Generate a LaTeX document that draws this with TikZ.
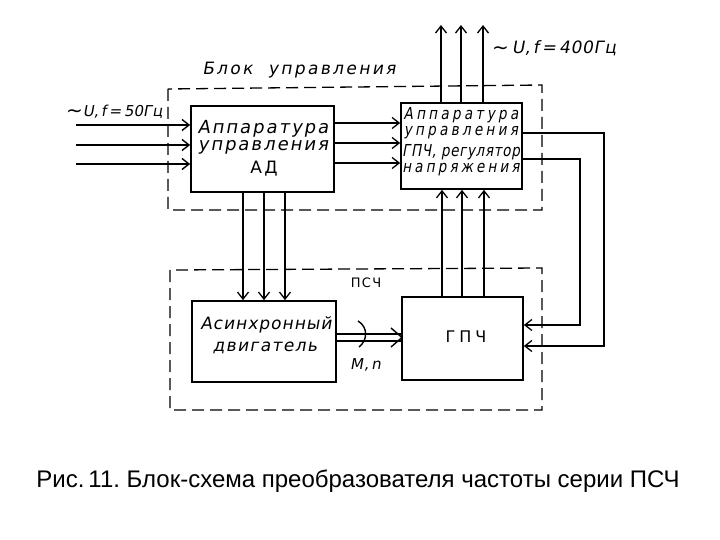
\documentclass[tikz,border=0pt]{standalone}
\usepackage{fontspec}
\setmainfont{Liberation Sans}
\newfontfamily\gost[FakeSlant=0.18]{DejaVu Sans}
\newfontfamily\gostn[FakeSlant=0.18,FakeStretch=0.82]{DejaVu Sans}
\newfontfamily\gostup{DejaVu Sans}
\newcommand{\ls}[1]{\addfontfeatures{LetterSpace=#1}}
\newcommand{\tld}{{\gostup\fontsize{20}{20}\selectfont\raisebox{-1pt}{∼}}}
\usetikzlibrary{arrows.meta}
\frenchspacing
\begin{document}
\begin{tikzpicture}[x=1pt,y=-1pt,
  blk/.style={draw,line width=1.7pt,inner sep=0pt},
  arr/.style={line width=1.3pt,-{Straight Barb[length=7pt,width=11pt,line width=1.3pt]}},
  thickarr/.style={line width=2.4pt,-{Straight Barb[length=7pt,width=11pt,line width=1.4pt]}},
  ln/.style={line width=1.4pt},
  dbox/.style={draw,line width=1.3pt,dash pattern=on 12pt off 6pt},
  tx/.style={inner sep=0pt}]
\useasboundingbox (0,0) rectangle (720,540);

% dashed boxes
\draw[dbox] (168,89) -- (168,210) -- (542,210) -- (542,85) -- cycle;
\draw[dbox] (170,270) -- (170,410) -- (542,410) -- (542,268) -- cycle;
\node[tx,font=\gost\fontsize{17}{19}\selectfont\ls{14}] (lblu) at (299,70) {Блок\ \ управления};
\node[tx,font=\gostup\fontsize{13}{15}\selectfont\ls{10}] (lblp) at (366,283) {ПСЧ};

% blocks
\node[blk,minimum width=143pt,minimum height=86pt] (ad) at (262.5,149) {};
\node[blk,minimum width=121pt,minimum height=86pt] (ur) at (461.5,146) {};
\node[blk,minimum width=144pt,minimum height=81pt] (mot) at (264,341.5) {};
\node[blk,minimum width=121pt,minimum height=83pt] (gp) at (462.5,338.5) {};

% block texts
\node[tx,font=\gost\fontsize{18}{20}\selectfont\ls{11}] (ad1) at (263,129) {Аппаратура};
\node[tx,font=\gost\fontsize{18}{20}\selectfont\ls{11}] (ad2) at (263,147) {управления};
\node[tx,font=\gostup\fontsize{17}{19}\selectfont\ls{15}] (ad3) at (264,169) {АД};
\node[tx,font=\gostn\fontsize{16.5}{18}\selectfont\ls{20}] (ur1) at (461,115) {Аппаратура};
\node[tx,font=\gostn\fontsize{16.5}{18}\selectfont\ls{20}] (ur2) at (461,133) {управления};
\node[tx,font=\gostn\fontsize{16.5}{18}\selectfont\ls{4}] (ur3) at (461,152) {ГПЧ, регулятор};
\node[tx,font=\gostn\fontsize{16.5}{18}\selectfont\ls{19}] (ur4) at (461,170) {напряжения};
\node[tx,font=\gost\fontsize{17}{19}\selectfont\ls{6}] (m1) at (266,325) {Асинхронный};
\node[tx,font=\gost\fontsize{17}{19}\selectfont\ls{8}] (m2) at (265,348) {двигатель};
\node[tx,font=\gostup\fontsize{16}{18}\selectfont\ls{25}] (g1) at (466,337) {ГПЧ};

% input arrows
\node[tx,anchor=west,font=\gost\fontsize{15}{17}\selectfont] (inlbl) at (66,112) {\tld U,\,f\,=\,50Гц};
\coordinate (i1) at (76,125);
\coordinate (i2) at (76,145);
\coordinate (i3) at (76,164);
\draw[thickarr] (i1) -- (ad.west |- i1);
\draw[thickarr] (i2) -- (ad.west |- i2);
\draw[thickarr] (i3) -- (ad.west |- i3);

% AD -> UR
\coordinate (h1) at (0,123);
\coordinate (h2) at (0,143);
\coordinate (h3) at (0,163);
\draw[arr] (ad.east |- h1) -- (ur.west |- h1);
\draw[arr] (ad.east |- h2) -- (ur.west |- h2);
\draw[arr] (ad.east |- h3) -- (ur.west |- h3);

% outputs up
\coordinate (o1) at (441,25);
\coordinate (o2) at (461,25);
\coordinate (o3) at (483,25);
\draw[arr] (ur.north -| o1) -- (o1);
\draw[arr] (ur.north -| o2) -- (o2);
\draw[arr] (ur.north -| o3) -- (o3);
\node[tx,anchor=west,font=\gost\fontsize{17}{19}\selectfont\ls{4}] (outlbl) at (492,48) {\tld\,U,\,f\,=\,400Гц};

% AD -> motor
\coordinate (d1) at (243,0);
\coordinate (d2) at (264,0);
\coordinate (d3) at (285,0);
\draw[arr] (ad.south -| d1) -- (mot.north -| d1);
\draw[arr] (ad.south -| d2) -- (mot.north -| d2);
\draw[arr] (ad.south -| d3) -- (mot.north -| d3);

% GPCh -> UR
\coordinate (u1) at (442,0);
\coordinate (u2) at (462,0);
\coordinate (u3) at (484,0);
\draw[arr] (gp.north -| u1) -- (ur.south -| u1);
\draw[arr] (gp.north -| u2) -- (ur.south -| u2);
\draw[arr] (gp.north -| u3) -- (ur.south -| u3);

% feedback lines
\coordinate (fa) at (604,133);
\coordinate (fb) at (580,159);
\coordinate (ga) at (604,346);
\coordinate (gb) at (580,325);
\draw[arr] (ur.east |- fa) -- (fa) -- (ga) -- (gp.east |- ga);
\draw[arr] (ur.east |- fb) -- (fb) -- (gb) -- (gp.east |- gb);

% shaft
\coordinate (s1) at (0,334);
\coordinate (s2) at (0,341);
\draw[ln] (mot.east |- s1) -- (gp.west |- s1);
\draw[ln] (mot.east |- s2) -- (gp.west |- s2);
\coordinate (tip) at (402,337.5);
\draw[ln] (391,328) -- (tip) -- (391,347);
\draw[ln] (358,321) .. controls (368,327) and (368,340) .. (359,347);
\node[tx,anchor=west,font=\gost\fontsize{15}{17}\selectfont\ls{6}] (mn) at (350,365) {M,\,n};

% caption
\node[tx,anchor=base,font=\fontsize{24}{28}\selectfont] (cap) at (358,487) {Рис.\,11. Блок-схема преобразователя частоты серии ПСЧ};
\end{tikzpicture}
\end{document}
